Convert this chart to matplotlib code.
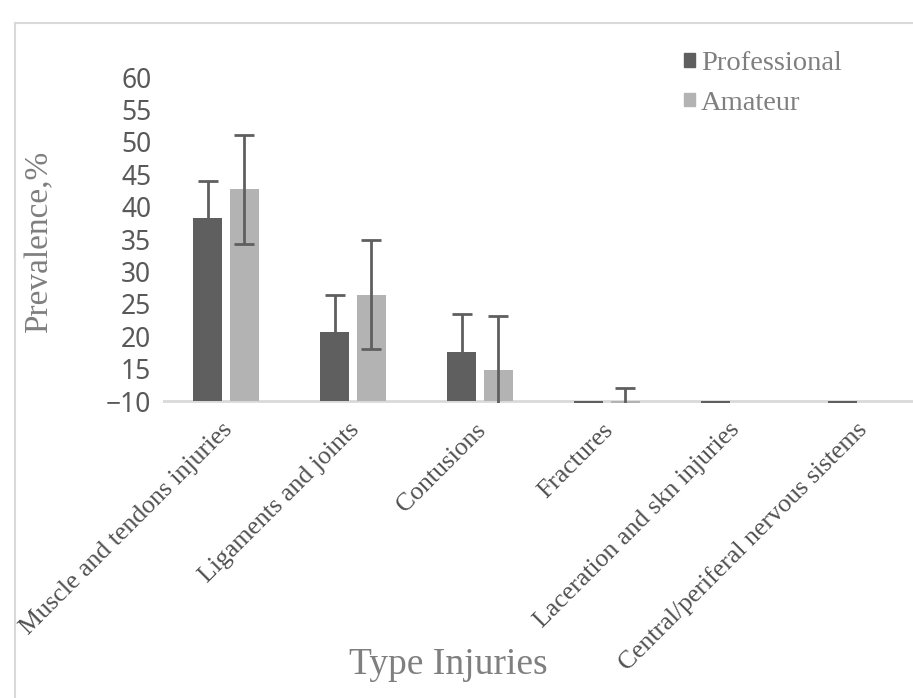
import numpy as np
import matplotlib
matplotlib.use("Agg")
import matplotlib.pyplot as plt
from matplotlib.patches import Patch
from matplotlib.lines import Line2D

categories = ["Muscle and tendons injuries", "Ligaments and joints", "Contusions",
              "Fractures", "Laceration and skn injuries", "Central/periferal nervous sistems"]
professional = np.array([38.2, 20.6, 17.5, 0.0, 0.0, 0.0])
amateur = np.array([42.7, 26.4, 14.8, 3.6, np.nan, np.nan])
prof_err = [5.8, 5.8, 5.9, 0, 0, 0]
amat_err = [8.4, 8.4, 8.4, 8.4, 0, 0]
yticks = [10, 15, 20, 25, 30, 35, 40, 45, 50, 55, 60]
ytick_labels = ["\u221210", "15", "20", "25", "30", "35", "40", "45", "50", "55", "60"]

dark = "#5f5f5f"
light = "#b3b3b3"
axis_grey = "#d9d9d9"
serif = "Liberation Serif"

fig = plt.figure(figsize=(9.13, 6.98), dpi=100)
ax = fig.add_axes([162.5 / 913, 295 / 698, 762 / 913, 326 / 698])

x = np.arange(len(categories))
w = 0.228
off = 0.143
base = 10  # horizontal axis crosses here, bars grow from it

ax.bar(x - off, professional - base, bottom=base, width=w, color=dark, zorder=2)
ax.bar(x + off, amateur - base, bottom=base, width=w, color=light, zorder=2)
ax.errorbar(x[:3] - off, professional[:3], yerr=prof_err[:3], fmt="none",
            ecolor=dark, elinewidth=2, capsize=7, capthick=2, zorder=3)
ax.errorbar(x[:4] + off, amateur[:4], yerr=amat_err[:4], fmt="none",
            ecolor=dark, elinewidth=2, capsize=7, capthick=2, zorder=3)

ax.axhline(base, color=axis_grey, lw=2, zorder=1)
ax.set_xlim(-0.5, len(categories) - 0.5)
ax.set_ylim(9.7, 60)
for s in ax.spines.values():
    s.set_visible(False)

ax.set_yticks(yticks)
ax.set_yticklabels(ytick_labels, family="Noto Sans", fontsize=19, color="#595959")
ax.tick_params(axis="y", length=0, pad=8)

ax.set_xticks(x + 0.02)
ax.set_xticklabels(categories, rotation=45, ha="right", va="center",
                   rotation_mode="anchor", family=serif, fontsize=18.5, color="#505050")
ax.tick_params(axis="x", length=0, pad=17)

fig.text(39 / 913, 1 - 242 / 698, "Prevalence,%", rotation=90, ha="center", va="center",
         family=serif, fontsize=24, color="#7f7f7f")
fig.text(448 / 913, 1 - 665 / 698, "Type Injuries", ha="center", va="center",
         family=serif, fontsize=27, color="#7f7f7f")

handles = [Patch(color=dark), Patch(color=light)]
leg = fig.legend(handles, ["Professional", "Amateur"], loc="upper left",
                 bbox_to_anchor=(673 / 913, 1 - 40 / 698), frameon=False,
                 prop={"family": serif, "size": 20.5}, handlelength=0.36, handleheight=0.36,
                 handletextpad=0.22, labelspacing=0.5, borderaxespad=0)
for t in leg.get_texts():
    t.set_color("#7f7f7f")

# chart area outline
fig.add_artist(Line2D([15 / 913, 15 / 913], [0, 1 - 23 / 698], color=axis_grey, lw=1.5,
                      transform=fig.transFigure))
fig.add_artist(Line2D([15 / 913, 1], [1 - 23 / 698, 1 - 23 / 698], color=axis_grey, lw=1.5,
                      transform=fig.transFigure))

fig.savefig("out.png", dpi=100)
